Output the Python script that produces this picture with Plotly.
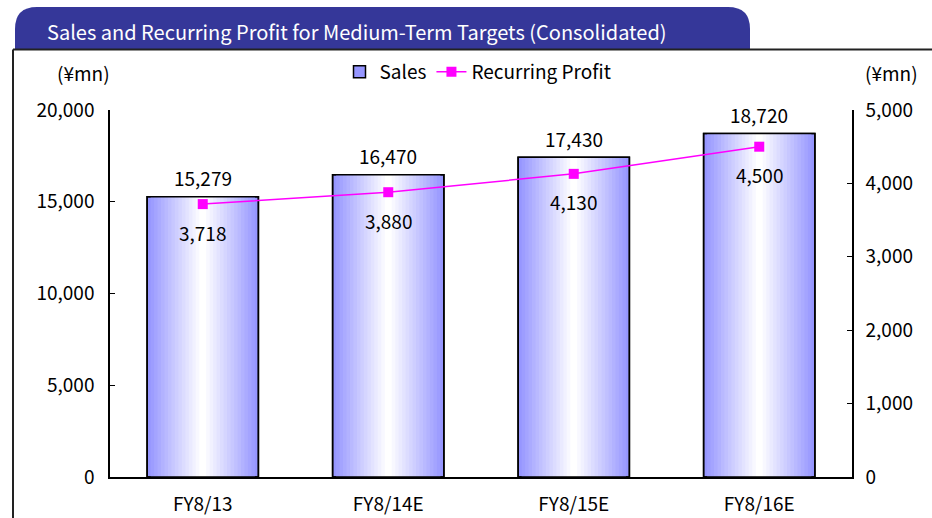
import plotly.graph_objects as go

categories = ["FY8/13", "FY8/14E", "FY8/15E", "FY8/16E"]
sales = [15279, 16470, 17430, 18720]
profit = [3718, 3880, 4130, 4500]
sales_labels = ["15,279", "16,470", "17,430", "18,720"]
profit_labels = ["3,718", "3,880", "4,130", "4,500"]
left_ticks = [0, 5000, 10000, 15000, 20000]
right_ticks = [0, 1000, 2000, 3000, 4000, 5000]

FONT = "Noto Sans CJK JP"
W, H = 932, 518
L, R, T, B = 110, 80, 110, 41
PW, PH = W - L - R, H - T - B


def px(x):
    return (x - L) / PW


def py(y):
    return (H - B - y) / PH


fig = go.Figure()

# gradient bars: overlaid bars of decreasing width
N = 16
BW = 0.6
edge = (150, 150, 255)
for k in range(N):
    t = k / (N - 1)
    c = tuple(int(round(e + (255 - e) * t)) for e in edge)
    fig.add_trace(go.Bar(
        x=categories, y=sales, width=BW * (1 - k / N),
        marker=dict(color="rgb(%d,%d,%d)" % c,
                    line=dict(color="black", width=1.5 if k == 0 else 0)),
        name="Sales", showlegend=(k == 0), yaxis="y", hoverinfo="skip"))
# outline on top
fig.add_trace(go.Bar(
    x=categories, y=sales, width=BW,
    marker=dict(color="rgba(0,0,0,0)", line=dict(color="black", width=1.5)),
    showlegend=False, yaxis="y", hoverinfo="skip"))

fig.add_trace(go.Scatter(
    x=categories, y=profit, mode="lines+markers", name="Recurring Profit",
    line=dict(color="#FF00FF", width=1.5),
    marker=dict(symbol="square", size=10, color="#FF00FF"),
    yaxis="y2"))

annotations = []
for c, v, lab in zip(categories, sales, sales_labels):
    annotations.append(dict(x=c, y=v, xref="x", yref="y", text=lab, showarrow=False,
                            yshift=19, font=dict(size=19, color="black", family=FONT)))
for c, v, lab in zip(categories, profit, profit_labels):
    annotations.append(dict(x=c, y=v, xref="x", yref="y2", text=lab, showarrow=False,
                            yshift=-28, font=dict(size=19, color="black", family=FONT)))

annotations.append(dict(x=px(45), y=py(31), xref="paper", yref="paper", xanchor="left",
                        yanchor="middle", showarrow=False,
                        text="Sales and Recurring Profit for Medium-Term Targets (Consolidated)",
                        font=dict(size=20, color="white", family=FONT)))
annotations.append(dict(x=px(83), y=py(73), xref="paper", yref="paper", xanchor="center",
                        yanchor="middle", showarrow=False, text="(¥mn)",
                        font=dict(size=19, color="black", family=FONT)))
annotations.append(dict(x=px(891), y=py(73), xref="paper", yref="paper", xanchor="center",
                        yanchor="middle", showarrow=False, text="(¥mn)",
                        font=dict(size=19, color="black", family=FONT)))

# header tab with rounded top corners
x0, x1, y0, y1, r = 15, 750, 49, 7, 22
path = ("M %f,%f L %f,%f Q %f,%f %f,%f L %f,%f Q %f,%f %f,%f L %f,%f Z" % (
    px(x0), py(y0),
    px(x0), py(y1 + r),
    px(x0), py(y1), px(x0 + r), py(y1),
    px(x1 - r), py(y1),
    px(x1), py(y1), px(x1), py(y1 + r),
    px(x1), py(y0)))
shapes = [
    dict(type="path", path=path, xref="paper", yref="paper",
         fillcolor="#353799", line=dict(width=0), layer="below"),
    dict(type="line", xref="paper", yref="paper", x0=px(13), x1=px(932), y0=py(49.5), y1=py(49.5),
         line=dict(color="#222222", width=2)),
    dict(type="line", xref="paper", yref="paper", x0=px(13), x1=px(13), y0=py(49.5), y1=py(518),
         line=dict(color="#222222", width=2)),
]

fig.update_layout(
    width=W, height=H,
    margin=dict(l=L, r=R, t=T, b=B, autoexpand=False),
    paper_bgcolor="white", plot_bgcolor="white",
    barmode="overlay", bargap=0.4,
    font=dict(family=FONT, size=19, color="black"),
    showlegend=True,
    legend=dict(orientation="h", xref="container", yref="container",
                x=478 / W, xanchor="center", y=1 - 72 / H, yanchor="middle",
                font=dict(size=19, family=FONT), bgcolor="rgba(0,0,0,0)"),
    xaxis=dict(showline=True, linecolor="black", linewidth=1.5, ticks="", showgrid=False,
               tickfont=dict(size=19), ticklabelstandoff=9, automargin=False),
    yaxis=dict(range=[0, 20000], tickvals=left_ticks, tickformat=",d", showline=True,
               linecolor="black", linewidth=1.5, ticks="inside", ticklen=5, tickcolor="black",
               showgrid=False, zeroline=False, tickfont=dict(size=19), ticklabelstandoff=10,
               automargin=False),
    yaxis2=dict(range=[0, 5000], tickvals=right_ticks, tickformat=",d", overlaying="y",
                side="right", showline=True, linecolor="black", linewidth=1.5,
                ticks="inside", ticklen=5, tickcolor="black", showgrid=False, zeroline=False,
                tickfont=dict(size=19), ticklabelstandoff=8, automargin=False),
    annotations=annotations,
    shapes=shapes,
)

fig.write_html("out.html", config={"displayModeBar": False},
               post_script="document.body.style.margin='0';document.body.style.overflow='hidden';")
